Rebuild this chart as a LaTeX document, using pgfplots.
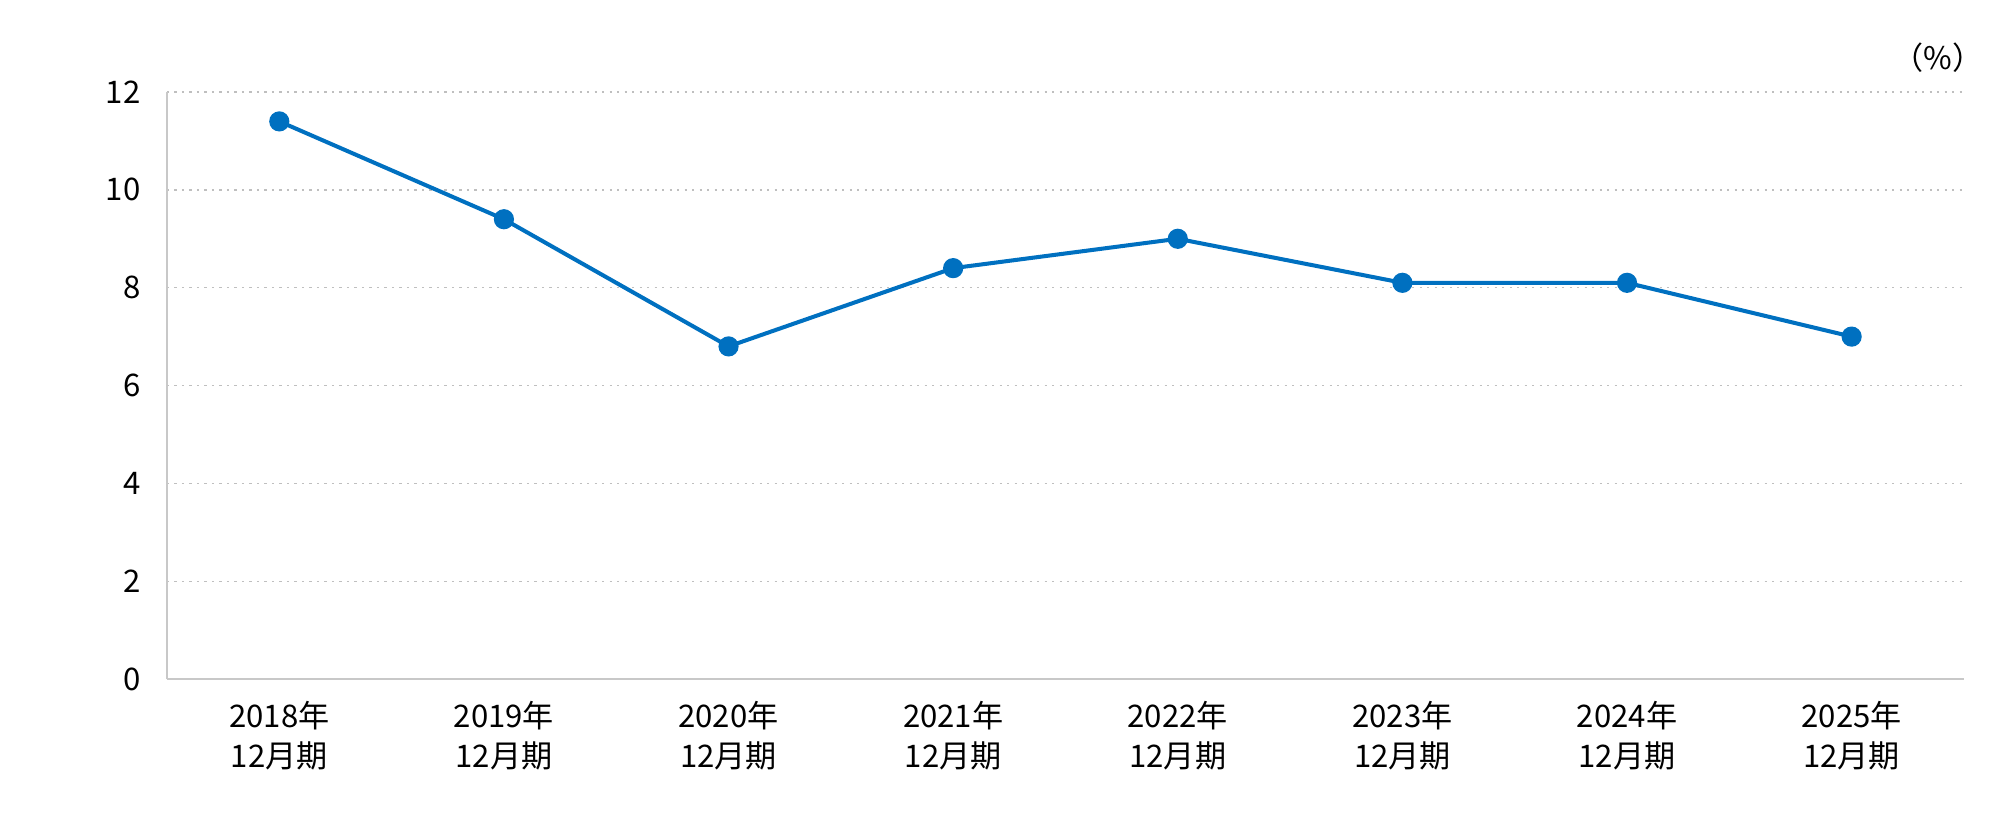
\documentclass[border=0pt]{standalone}
\usepackage{fontspec}
\setmainfont{Noto Sans CJK JP}
\usepackage{pgfplots}
\pgfplotsset{compat=1.18}
\definecolor{lineblue}{HTML}{0070C0}
\definecolor{gridgray}{HTML}{BFBFBF}
\definecolor{axisgray}{HTML}{C8C8C8}
\begin{document}
\begin{tikzpicture}
\begin{axis}[
    scale only axis,
    width=646.9pt, height=211.3pt,
    xmin=-0.5, xmax=7.5,
    ymin=0, ymax=12,
    ytick={0,2,4,6,8,10,12},
    xtick={0,...,7},
    xticklabels={2018年\\12月期,2019年\\12月期,2020年\\12月期,2021年\\12月期,2022年\\12月期,2023年\\12月期,2024年\\12月期,2025年\\12月期},
    xticklabel style={align=center, font=\fontsize{11.2}{14.4}\selectfont, yshift=-4.5pt},
    yticklabel style={font=\fontsize{11.2}{13.3}\selectfont, xshift=-6pt},
    /pgf/number format/assume math mode=true,
    axis x line=bottom, axis y line=left,
    axis line style={-, draw=axisgray, line width=0.6pt},
    major tick length=0pt,
    ymajorgrids,
    grid style={draw=gridgray, line width=0.45pt, dash pattern=on 0.8pt off 1.9pt},
    clip=false,
]
\addplot[color=lineblue, line width=1.45pt, mark=*, mark size=2.9pt,
    mark options={fill=lineblue, draw=lineblue}]
    coordinates {(0,11.4) (1,9.4) (2,6.8) (3,8.4) (4,9.0) (5,8.1) (6,8.1) (7,7.0)};
\node[anchor=east, font=\fontsize{11.2}{13.3}\selectfont] at ([xshift=10.5pt,yshift=12.2pt]rel axis cs:1,1) {（\%）};
\coordinate (o) at (rel axis cs:0,0);
\end{axis}
\pgfresetboundingbox
\path ([shift={(-60.12pt,-47.88pt)}]o) rectangle +(720pt,292.32pt);
\end{tikzpicture}
\end{document}
